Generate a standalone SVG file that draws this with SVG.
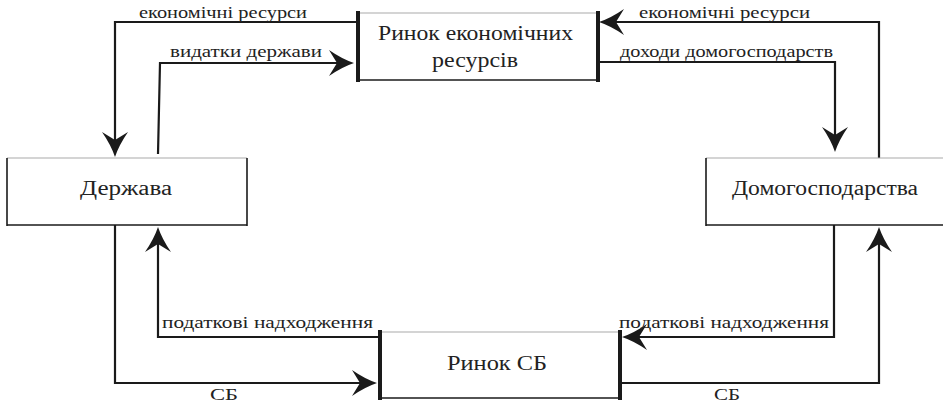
<svg xmlns="http://www.w3.org/2000/svg" width="943" height="405" viewBox="0 0 943 405">
<style>
.lbl{font-family:"Liberation Serif","DejaVu Serif",serif;font-size:16px;fill:#222}
.big{font-family:"Liberation Serif","DejaVu Serif",serif;font-size:20px;fill:#222}
.con{fill:none;stroke:#1a1a1a;stroke-width:2.2;marker-end:url(#arr)}
.top{stroke:#aaa;stroke-width:1.2}
.thin{stroke:#1a1a1a;stroke-width:1.6}
.thick{stroke:#1a1a1a;stroke-width:4}
</style>
<defs>
<marker id="arr" markerUnits="userSpaceOnUse" viewBox="-14 -14 27 28" markerWidth="27" markerHeight="28" refX="0" refY="0" orient="auto">
<path d="M12,0 Q0,-4 -13,-13 L-5,0 L-13,13 Q0,4 12,0 Z" fill="#1a1a1a"/>
</marker>
</defs>
<rect width="943" height="405" fill="#fff"/>
<g id="connectors">
<path class="con" d="M356,22 H115 V145"/>
<path class="con" d="M158,154 L160,63 H342"/>
<path class="con" d="M879,158 V22 H611"/>
<path class="con" d="M598,62 H835 V140"/>
<path class="con" d="M115,225 V383 H365"/>
<path class="con" d="M378,337 H158 V239"/>
<path class="con" d="M834,225 V337 H634"/>
<path class="con" d="M620,383 H879 V239"/>
<text class="lbl" x="139" y="18" textLength="168" lengthAdjust="spacingAndGlyphs">економічні ресурси</text>
<text class="lbl" x="170" y="57" textLength="152" lengthAdjust="spacingAndGlyphs">видатки держави</text>
<text class="lbl" x="639" y="18" textLength="171" lengthAdjust="spacingAndGlyphs">економічні ресурси</text>
<text class="lbl" x="620" y="57" textLength="213" lengthAdjust="spacingAndGlyphs">доходи домогосподарств</text>
<text class="lbl" x="162" y="328" textLength="211" lengthAdjust="spacingAndGlyphs">податкові надходження</text>
<text class="lbl" x="619" y="328" textLength="210" lengthAdjust="spacingAndGlyphs">податкові надходження</text>
<text class="lbl" x="210" y="400" textLength="28" lengthAdjust="spacingAndGlyphs">СБ</text>
<text class="lbl" x="714" y="400" textLength="26" lengthAdjust="spacingAndGlyphs">СБ</text>
</g>
<g id="node-market-resources">
<rect x="358" y="13" width="240" height="67" fill="#fff"/>
<line class="top" x1="358" y1="13" x2="598" y2="13"/>
<line class="thin" x1="358" y1="80" x2="598" y2="80"/>
<line class="thick" x1="358" y1="11" x2="358" y2="82"/>
<line class="thick" x1="598" y1="11" x2="598" y2="82"/>
<text class="big" x="378" y="40" textLength="195" lengthAdjust="spacingAndGlyphs">Ринок економічних</text>
<text class="big" x="432" y="67" textLength="86" lengthAdjust="spacingAndGlyphs">ресурсів</text>
</g>
<g id="node-state">
<rect x="7" y="158" width="240" height="67" fill="#fff"/>
<line class="top" x1="7" y1="158" x2="247" y2="158"/>
<line class="thin" x1="7" y1="225" x2="247" y2="225"/>
<line class="thin" x1="7" y1="158" x2="7" y2="226"/>
<line class="thin" x1="247" y1="158" x2="247" y2="226"/>
<text class="big" x="80" y="195" textLength="92" lengthAdjust="spacingAndGlyphs">Держава</text>
</g>
<g id="node-households">
<rect x="706" y="158" width="240" height="67" fill="#fff"/>
<line class="top" x1="706" y1="158" x2="943" y2="158"/>
<line class="thin" x1="706" y1="225" x2="943" y2="225"/>
<line class="thin" x1="706" y1="158" x2="706" y2="226"/>
<text class="big" x="732" y="195" textLength="186" lengthAdjust="spacingAndGlyphs">Домогосподарства</text>
</g>
<g id="node-market-goods">
<rect x="380" y="332" width="240" height="66" fill="#fff"/>
<line class="top" x1="380" y1="332" x2="620" y2="332"/>
<line class="thin" x1="380" y1="398" x2="620" y2="398"/>
<line class="thick" x1="380" y1="330" x2="380" y2="400"/>
<line class="thick" x1="620" y1="330" x2="620" y2="400"/>
<text class="big" x="447" y="370" textLength="100" lengthAdjust="spacingAndGlyphs">Ринок СБ</text>
</g>
</svg>
